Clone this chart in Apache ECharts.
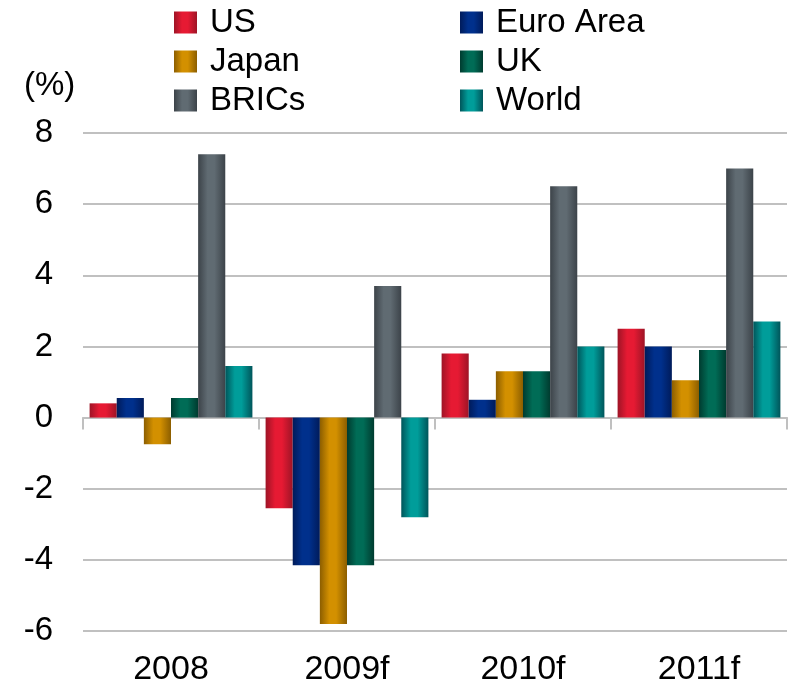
<!DOCTYPE html>
<html>
<head>
<meta charset="utf-8">
<script src="https://cdn.jsdelivr.net/npm/echarts@6/dist/echarts.min.js"></script>
<style>html,body{margin:0;padding:0;background:#fff}#c{width:792px;height:690px}</style>
</head>
<body>
<div id="c"></div>
<script>
const categories = ['2008', '2009f', '2010f', '2011f'];
const seriesNames = ['US', 'Euro Area', 'Japan', 'UK', 'BRICs', 'World'];
const usValues = [0.4, -2.55, 1.8, 2.5];
const euroValues = [0.55, -4.15, 0.5, 2.0];
const japanValues = [-0.75, -5.8, 1.3, 1.05];
const ukValues = [0.55, -4.15, 1.3, 1.9];
const bricsValues = [7.4, 3.7, 6.5, 7.0];
const worldValues = [1.45, -2.8, 2.0, 2.7];
const yTicks = { min: -6, max: 8, interval: 2 };

const values = [usValues, euroValues, japanValues, ukValues, bricsValues, worldValues];
const palette = [
  ['#9e1426', '#e61a33'],
  ['#001b5a', '#00308c'],
  ['#8c5e00', '#d39000'],
  ['#003b2f', '#006c56'],
  ['#3c4349', '#606b72'],
  ['#00555a', '#009d9a']
];
function grad(p) {
  return new echarts.graphic.LinearGradient(0, 0, 1, 0, [
    { offset: 0, color: p[0] },
    { offset: 0.35, color: p[1] },
    { offset: 0.6, color: p[1] },
    { offset: 1, color: p[0] }
  ]);
}
const font = "'Liberation Sans', Arial, sans-serif";
const chart = echarts.init(document.getElementById('c'), null, { renderer: 'canvas' });
const legendText = { fontFamily: font, fontSize: 33, color: '#000', padding: [0, 0, 0, 8] };
chart.setOption({
  animation: false,
  backgroundColor: '#fff',
  title: {
    text: '(%)', left: 19, top: 64,
    textStyle: { fontFamily: font, fontSize: 33, fontWeight: 'normal', color: '#000' }
  },
  legend: [
    {
      data: [seriesNames[0], seriesNames[2], seriesNames[4]],
      orient: 'vertical', left: 174, top: 6,
      icon: 'rect', itemWidth: 23, itemHeight: 22, itemGap: 6,
      textStyle: legendText, padding: 0
    },
    {
      data: [seriesNames[1], seriesNames[3], seriesNames[5]],
      orient: 'vertical', left: 460, top: 6,
      icon: 'rect', itemWidth: 23, itemHeight: 22, itemGap: 6,
      textStyle: legendText, padding: 0
    }
  ],
  grid: { left: 83, right: 5, top: 133, bottom: 59 },
  xAxis: [
    {
      type: 'category', data: categories,
      axisLine: { onZero: true, lineStyle: { color: '#c0c0c0', width: 2 } },
      axisTick: { show: true, length: 12, lineStyle: { color: '#c0c0c0', width: 2 } },
      axisLabel: { show: false },
      splitLine: { show: false }
    },
    {
      type: 'category', data: categories, position: 'bottom',
      axisLine: { show: false, onZero: false },
      axisTick: { show: false },
      axisLabel: { show: true, margin: 22, fontFamily: font, fontSize: 34, color: '#000' },
      splitLine: { show: false }
    }
  ],
  yAxis: {
    type: 'value', min: yTicks.min, max: yTicks.max, interval: yTicks.interval,
    axisLine: { show: false }, axisTick: { show: false },
    axisLabel: { margin: 30, fontFamily: font, fontSize: 33, color: '#000' },
    splitLine: { lineStyle: { color: '#c0c0c0', width: 2 } }
  },
  series: seriesNames.map((n, i) => ({
    name: n, type: 'bar', data: values[i], xAxisIndex: 0,
    barGap: '0%', barCategoryGap: '7.5%',
    itemStyle: { color: grad(palette[i]) }
  }))
});
</script>
</body>
</html>
